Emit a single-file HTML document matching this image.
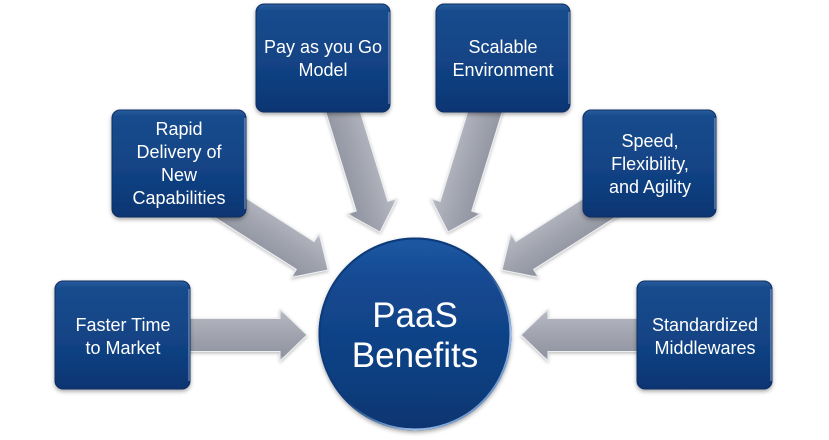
<!DOCTYPE html>
<html>
<head>
<meta charset="utf-8">
<style>
  html,body{margin:0;padding:0;background:#fff;}
  body{width:829px;height:440px;overflow:hidden;}
  svg{display:block;}
  text{font-family:"Liberation Sans",Arial,sans-serif;fill:#ffffff;text-anchor:middle;}
</style>
</head>
<body>
<svg width="829" height="440" viewBox="0 0 829 440" xmlns="http://www.w3.org/2000/svg">
  <defs>
    <linearGradient id="ag" x1="0" y1="0" x2="0" y2="1">
      <stop offset="0" stop-color="#dfe0e4"/>
      <stop offset="0.1" stop-color="#b3b6bf"/>
      <stop offset="0.5" stop-color="#a1a4af"/>
      <stop offset="0.9" stop-color="#9195a1"/>
      <stop offset="1" stop-color="#c6c8ce"/>
    </linearGradient>
    <linearGradient id="ag2" x1="0" y1="1" x2="0" y2="0">
      <stop offset="0" stop-color="#dfe0e4"/>
      <stop offset="0.1" stop-color="#b3b6bf"/>
      <stop offset="0.5" stop-color="#a1a4af"/>
      <stop offset="0.9" stop-color="#9195a1"/>
      <stop offset="1" stop-color="#c6c8ce"/>
    </linearGradient>
    <linearGradient id="bg" x1="0" y1="0" x2="0" y2="1">
      <stop offset="0" stop-color="#2a5d9e"/>
      <stop offset="0.06" stop-color="#184c8d"/>
      <stop offset="0.55" stop-color="#124385"/>
      <stop offset="1" stop-color="#0c3572"/>
    </linearGradient>
    <linearGradient id="cg" x1="0" y1="0" x2="0" y2="1">
      <stop offset="0" stop-color="#1d58a3"/>
      <stop offset="0.25" stop-color="#134890"/>
      <stop offset="0.7" stop-color="#0f3f80"/>
      <stop offset="1" stop-color="#0c3570"/>
    </linearGradient>
    <linearGradient id="rim" x1="0" y1="0" x2="1" y2="1">
      <stop offset="0" stop-color="#0d3a78"/>
      <stop offset="0.5" stop-color="#0d3a78"/>
      <stop offset="0.75" stop-color="#9fc0ea"/>
      <stop offset="1" stop-color="#2b5f9f"/>
    </linearGradient>
    <filter id="sh" x="-20%" y="-20%" width="140%" height="150%">
      <feDropShadow dx="0" dy="2" stdDeviation="2" flood-color="#000" flood-opacity="0.35"/>
    </filter>
    <filter id="ash" x="-20%" y="-50%" width="140%" height="200%">
      <feDropShadow dx="0" dy="1.5" stdDeviation="1.5" flood-color="#000" flood-opacity="0.25"/>
    </filter>
    <path id="arr" d="M -140,-16.5 L -27,-16.5 L -27,-26 L 0,0 L -27,26 L -27,16.5 L -140,16.5 Z"/>
    <path id="arrh" d="M -127,-16.5 L -27,-16.5 L -27,-26 L 0,0 L -27,26 L -27,16.5 L -127,16.5 Z"/>
  </defs>

  <!-- arrows -->
  <g filter="url(#ash)" stroke="#eceef1" stroke-width="1">
    <use href="#arrh" fill="url(#ag)" transform="translate(307,335)"/>
    <use href="#arrh" fill="url(#ag2)" transform="translate(521,335) rotate(180)"/>
    <use href="#arr" fill="url(#ag)" transform="translate(380,232) rotate(72.9)"/>
    <use href="#arr" fill="url(#ag2)" transform="translate(448,232) rotate(107.1)"/>
    <use href="#arr" fill="url(#ag)" transform="translate(328,270) rotate(32.5)"/>
    <use href="#arr" fill="url(#ag2)" transform="translate(502,270) rotate(147.5)"/>
  </g>

  <!-- boxes -->
  <g filter="url(#sh)" fill="url(#bg)" stroke="#0a2e62" stroke-width="1">
    <rect x="55" y="281" width="135" height="108" rx="8"/>
    <rect x="112" y="110" width="134" height="107" rx="8"/>
    <rect x="256" y="4" width="134" height="108" rx="8"/>
    <rect x="436" y="4" width="134" height="108" rx="8"/>
    <rect x="583" y="110" width="133" height="107" rx="8"/>
    <rect x="637" y="281" width="135" height="108" rx="8"/>
  </g>
  <!-- box right-edge highlights -->
  <g stroke="#b9cdea" stroke-width="1" fill="none" opacity="0.7">
    <path d="M 189,289 L 189,381"/>
    <path d="M 245,118 L 245,209"/>
    <path d="M 389,12 L 389,104"/>
    <path d="M 569,12 L 569,104"/>
    <path d="M 715,118 L 715,209"/>
    <path d="M 771,289 L 771,381"/>
  </g>

  <!-- circle -->
  <circle cx="415" cy="334" r="96.5" fill="url(#cg)" filter="url(#sh)"/>
  <circle cx="415" cy="334" r="95.5" fill="none" stroke="url(#rim)" stroke-width="2"/>

  <!-- texts -->
  <g font-size="18">
    <text x="123" y="331">Faster Time</text>
    <text x="123" y="354">to Market</text>

    <text x="179" y="135">Rapid</text>
    <text x="179" y="158">Delivery of</text>
    <text x="179" y="181">New</text>
    <text x="179" y="204">Capabilities</text>

    <text x="323" y="53">Pay as you Go</text>
    <text x="323" y="76">Model</text>

    <text x="503" y="53">Scalable</text>
    <text x="503" y="76">Environment</text>

    <text x="650" y="147">Speed,</text>
    <text x="650" y="170">Flexibility,</text>
    <text x="650" y="193">and Agility</text>

    <text x="705" y="331">Standardized</text>
    <text x="705" y="354">Middlewares</text>
  </g>
  <g font-size="35">
    <text x="415" y="327">PaaS</text>
    <text x="415" y="367">Benefits</text>
  </g>
</svg>
</body>
</html>
